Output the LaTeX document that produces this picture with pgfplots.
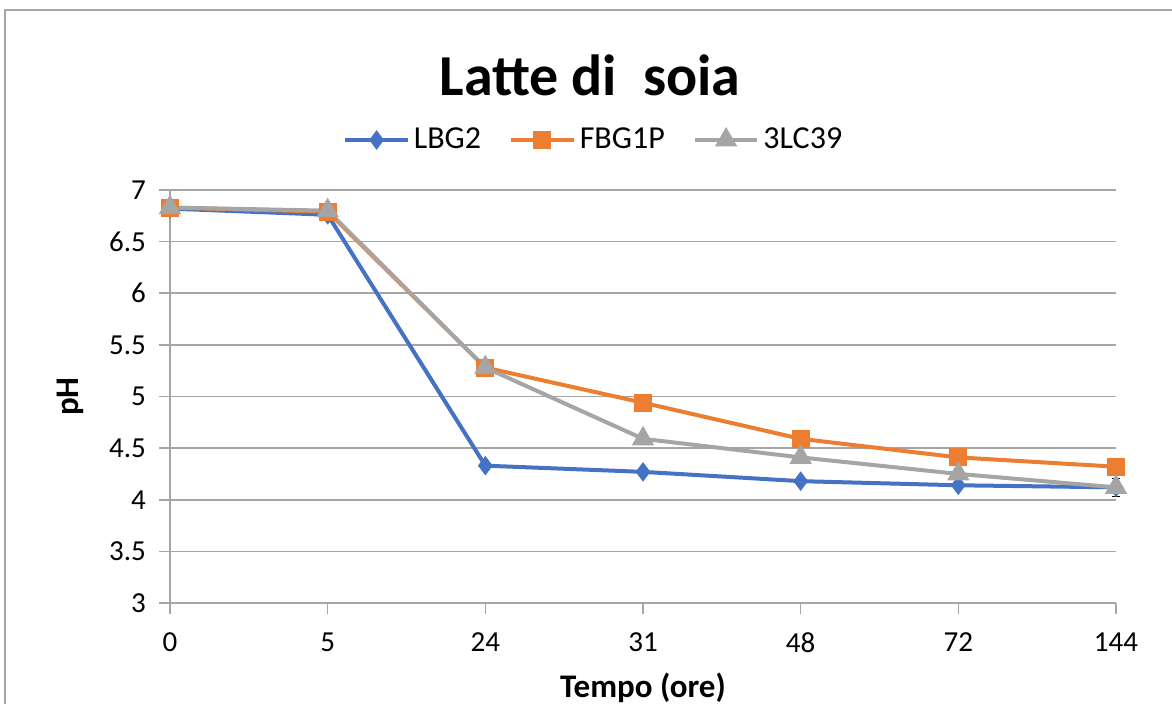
\documentclass[border=0pt]{standalone}
\usepackage{pgfplots}
\pgfplotsset{compat=1.18}
\usepackage{fontspec}
\setmainfont{Carlito}
\definecolor{cblue}{HTML}{4472C4}
\definecolor{corange}{HTML}{ED7D31}
\definecolor{cgray}{HTML}{A5A5A5}
\definecolor{gridc}{HTML}{A6A6A6}
\begin{document}
\begin{tikzpicture}
\path[use as bounding box] (-85pt,-50.5pt) rectangle (501pt,301.5pt);
\begin{axis}[
  scale only axis, width=473pt, height=206.5pt,
  at={(0,0)}, anchor=south west,
  xmin=0, xmax=6, ymin=3, ymax=7,
  xtick={0,1,2,3,4,5,6},
  xticklabels={0,5,24,31,48,72,144},
  ytick={3,3.5,4,4.5,5,5.5,6,6.5,7},
  /pgf/number format/assume math mode=true,
  tick label style={font=\fontsize{14.5}{17}\selectfont},
  xticklabel style={yshift=-6pt},
  yticklabel style={xshift=-3pt},
  axis lines*=left,
  axis line style={gridc, line width=0.8pt},
  tick style={gridc, line width=0.8pt},
  tick align=outside, major tick length=5.5pt,
  ymajorgrids, grid style={gridc, line width=0.8pt},
  xlabel={\textbf{Tempo (ore)}},
  ylabel={\textbf{pH}},
  label style={font=\fontsize{16.5}{19}\selectfont},
  xlabel style={at={(0.5,0)}, anchor=center, yshift=-42.5pt},
  ylabel style={at={(0,0.5)}, anchor=center, xshift=0pt, yshift=50pt},
  legend style={at={(0.449,1)}, anchor=center, yshift=25pt, draw=none,
    font=\fontsize{16}{18}\selectfont, legend columns=-1,
    /tikz/every even column/.append style={column sep=12pt}},
  legend image code/.code={
    \draw[mark repeat=2,mark phase=2] plot coordinates {(0cm,0cm) (0.55cm,0cm) (1.1cm,0cm)};},
  clip=false,
]
\addplot[cblue, line width=2pt, mark=diamond*, mark size=4.5pt,
  mark options={solid, fill=cblue, draw=cblue, line width=0.5pt},
  error bars/.cd, y dir=both, y explicit,
  error bar style={black, line width=0.6pt}, error mark options={black, mark size=2pt, rotate=90}]
  table[x=x, y=y, y error=e] {
  x y e
  0 6.82 0
  1 6.76 0
  2 4.33 0.03
  3 4.27 0
  4 4.18 0
  5 4.14 0
  6 4.12 0
  };
\addlegendentry{LBG2}
\addplot[corange, line width=2pt, mark=square*, mark size=3.5pt,
  mark options={solid, fill=corange, draw=corange}]
  table[x=x, y=y] {
  x y
  0 6.83
  1 6.79
  2 5.28
  3 4.94
  4 4.59
  5 4.41
  6 4.32
  };
\addlegendentry{FBG1P}
\addplot[cgray, line width=2pt, mark=triangle*, mark size=4.5pt,
  mark options={solid, fill=cgray, draw=cgray},
  error bars/.cd, y dir=both, y explicit,
  error bar style={black, line width=0.6pt}, error mark options={black, mark size=2pt, rotate=90}]
  table[x=x, y=y, y error=e] {
  x y e
  0 6.83 0
  1 6.80 0
  2 5.28 0
  3 4.59 0
  4 4.41 0
  5 4.25 0.03
  6 4.12 0.09
  };
\addlegendentry{3LC39}
\end{axis}
\node[font=\fontsize{29}{34}\selectfont\bfseries] at (210pt,264pt) {Latte di\ \ soia};
\draw[gridc, line width=0.8pt] (-82.5pt,-50.5pt) -- (-82.5pt,296.5pt) -- (501pt,296.5pt);
\end{tikzpicture}
\end{document}
